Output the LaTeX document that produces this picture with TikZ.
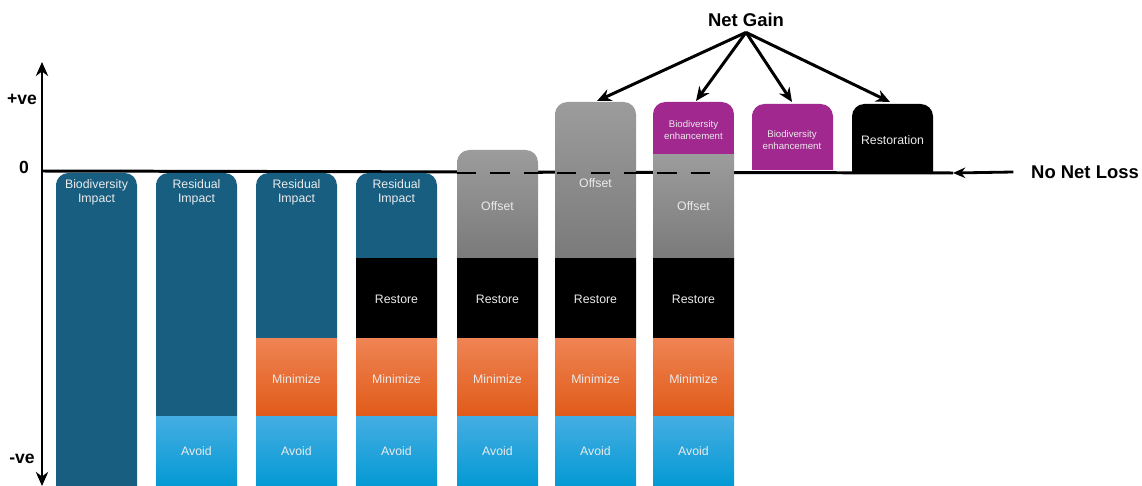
\documentclass[tikz,border=0pt]{standalone}
\usepackage{fontspec}
\setmainfont{Liberation Sans}
\usetikzlibrary{arrows.meta}

\definecolor{impactblue}{HTML}{175E81}
\definecolor{avoidtop}{HTML}{45AEE2}
\definecolor{avoidbot}{HTML}{0098D3}
\definecolor{mintop}{HTML}{EF8454}
\definecolor{minbot}{HTML}{E05A18}
\definecolor{offtop}{HTML}{9C9C9C}
\definecolor{offbot}{HTML}{7A7A7A}
\definecolor{enhance}{HTML}{A0288F}

% plain segment: x, top, bottom, top colour, bottom colour
\newcommand{\seg}[5]{\shade[top color=#4,bottom color=#5] (#1,#2) rectangle ({#1+81},#3);}
% segment with rounded top
\newcommand{\rseg}[5]{\shade[top color=#4,bottom color=#5] (#1,#3) [rounded corners=7pt] -- (#1,#2) -- ({#1+81},#2) [sharp corners] -- ({#1+81},#3) -- cycle;}

\tikzset{
	lbl/.style={text=white!92!black, font=\fontsize{7}{8}\selectfont, align=center, inner sep=0pt},
	lblsmall/.style={text=white!92!black, font=\fontsize{5.5}{6.5}\selectfont, align=center, inner sep=0pt},
	axislbl/.style={font=\bfseries\fontsize{10}{12}\selectfont, inner sep=0pt},
	gainarrow/.style={-{Stealth[length=8pt,width=7pt]}, line width=1.7pt}
}

\begin{document}
\begin{tikzpicture}[x=0.02cm,y=-0.02cm]
	
	\useasboundingbox (0,0) rectangle (1142,486);
	
	% axes
	\draw[{Stealth[length=8pt,width=7pt]}-{Stealth[length=8pt,width=7pt]}, line width=1.6pt] (42,486) -- (42,62);
	\draw[line width=1.7pt] (42,171) -- (953,173);
	
	\node[axislbl] (pos) at (22,99) {+ve};
	\node[axislbl] (zero) at (24,167) {0};
	\node[axislbl] (neg) at (22,459) {-ve};
	
	% bars 1 to 4
	\rseg{56}{173}{490}{impactblue}{impactblue}
	\rseg{156}{173}{416}{impactblue}{impactblue}
	\rseg{256}{173}{338}{impactblue}{impactblue}
	\rseg{356}{173}{258}{impactblue}{impactblue}
	
	% bars 5 to 7
	\rseg{457}{150}{258}{offtop}{offbot}
	\rseg{555}{102}{258}{offtop}{offbot}
	\rseg{653}{102}{156}{enhance}{enhance}
	\seg{653}{155}{258}{offtop}{offbot}
	
	% common parts
	\foreach \x in {356,457,555,653}
		\seg{\x}{258}{338}{black}{black};
	\foreach \x in {256,356,457,555,653}
		\seg{\x}{338}{417}{mintop}{minbot};
	\foreach \x in {156,256,356,457,555,653}
		\seg{\x}{416}{490}{avoidtop}{avoidbot};
	
	% bars 8 and 9
	\rseg{752}{104}{170}{enhance}{enhance}
	\rseg{852}{104}{172}{black}{black}
	
	\draw[dash pattern=on 11pt off 8pt, line width=1.7pt] (457,173) -- (716,173);
	
	% labels
	\node[lbl] (impact1) at (96.5,192) {Biodiversity\\Impact};
	\node[lbl] (resid2) at (196.5,192) {Residual\\Impact};
	\node[lbl] (resid3) at (296.5,192) {Residual\\Impact};
	\node[lbl] (resid4) at (396.5,192) {Residual\\Impact};
	\node[lbl] (off5) at (497.5,206) {Offset};
	\node[lbl] (off6) at (595.5,183) {Offset};
	\node[lbl] (off7) at (693.5,206) {Offset};
	\node[lblsmall] (enh7) at (693.5,130) {Biodiversity\\enhancement};
	\node[lblsmall] (enh8) at (792,140) {Biodiversity\\enhancement};
	\node[lbl] (rest9) at (892.5,140) {Restoration};
	
	\foreach \x/\n in {396.5/4,497.5/5,595.5/6,693.5/7}
		\node[lbl] (restore\n) at (\x,299) {Restore};
	\foreach \x/\n in {296.5/3,396.5/4,497.5/5,595.5/6,693.5/7}
		\node[lbl] (min\n) at (\x,379) {Minimize};
	\foreach \x/\n in {196.5/2,296.5/3,396.5/4,497.5/5,595.5/6,693.5/7}
		\node[lbl] (avoid\n) at (\x,451) {Avoid};
	
	% net gain
	\node[axislbl, font=\bfseries\fontsize{10.5}{12}\selectfont] (gain) at (746,20) {Net Gain};
	\coordinate (top6) at (597,101);
	\coordinate (top7) at (696,101);
	\coordinate (top8) at (792,102);
	\coordinate (top9) at (890,102);
	\foreach \t in {top6,top7,top8,top9}
		\draw[gainarrow] ([yshift=-3pt]gain.south) -- (\t);
	
	% no net loss
	\node[axislbl, font=\bfseries\fontsize{10.5}{12}\selectfont] (nnl) at (1085,172) {No Net Loss};
	\coordinate (nnlend) at (953,173);
	\draw[-{Stealth[length=7pt,width=6pt]}, line width=1.6pt] ([xshift=-10pt]nnl.west) -- (nnlend);
	
\end{tikzpicture}
\end{document}
